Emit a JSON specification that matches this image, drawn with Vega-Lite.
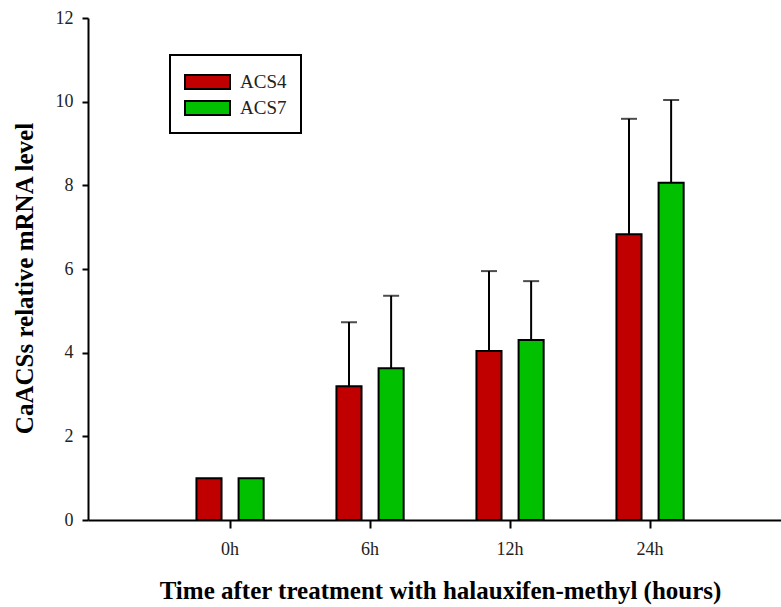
{
  "$schema": "https://vega.github.io/schema/vega-lite/v6.json",
  "width": 693,
  "height": 502,
  "autosize": "none",
  "padding": {"left": 88, "top": 18, "right": 0, "bottom": 87},
  "background": "white",
  "config": {
    "view": {"stroke": null},
    "font": "Liberation Serif",
    "axis": {"grid": false, "domainColor": "black", "domainWidth": 2, "tickColor": "black", "tickWidth": 2, "labelFont": "Liberation Serif", "labelFontSize": 18, "labelColor": "#222", "titleFont": "Liberation Serif", "titleFontWeight": "bold", "titleFontSize": 25, "titleColor": "black"},
    "legend": {"strokeWidth": 2}
  },
  "data": {
    "values": [
      {"time": "0h", "gene": "ACS4", "value": 1.0, "upper": null},
      {"time": "0h", "gene": "ACS7", "value": 1.0, "upper": null},
      {"time": "6h", "gene": "ACS4", "value": 3.20, "upper": 4.73},
      {"time": "6h", "gene": "ACS7", "value": 3.63, "upper": 5.36},
      {"time": "12h", "gene": "ACS4", "value": 4.04, "upper": 5.95},
      {"time": "12h", "gene": "ACS7", "value": 4.30, "upper": 5.71},
      {"time": "24h", "gene": "ACS4", "value": 6.83, "upper": 9.59},
      {"time": "24h", "gene": "ACS7", "value": 8.06, "upper": 10.04}
    ]
  },
  "encoding": {
    "x": {
      "field": "time", "type": "nominal", "sort": ["0h", "6h", "12h", "24h"],
      "scale": {"paddingInner": 0.52, "paddingOuter": 0.735, "align": 0.527},
      "axis": {"title": "Time after treatment with halauxifen-methyl (hours)", "labelAngle": 0, "tickSize": 8, "labelPadding": 12, "titleX": 352, "titleY": 70, "titleBaseline": "middle", "titleAnchor": null, "titleAlign": "center"}
    },
    "xOffset": {"field": "gene", "type": "nominal", "scale": {"paddingInner": 0.405, "paddingOuter": 0}}
  },
  "layer": [
    {
      "transform": [{"filter": "isValid(datum.upper)"}],
      "mark": {"type": "rule", "color": "black", "strokeWidth": 2},
      "encoding": {
        "y": {"field": "value", "type": "quantitative"},
        "y2": {"field": "upper"}
      }
    },
    {
      "transform": [{"filter": "isValid(datum.upper)"}],
      "mark": {"type": "tick", "color": "black", "size": 16, "thickness": 2, "orient": "horizontal"},
      "encoding": {
        "y": {"field": "upper", "type": "quantitative"}
      }
    },
    {
      "mark": {"type": "bar", "stroke": "black", "strokeWidth": 2},
      "encoding": {
        "y": {
          "field": "value", "type": "quantitative",
          "scale": {"domain": [0, 12], "nice": false},
          "axis": {"title": "CaACSs relative mRNA level", "values": [0, 2, 4, 6, 8, 10, 12], "tickSize": 6, "labelPadding": 9, "titleX": -64, "titleY": 260, "titleAngle": 270, "titleBaseline": "middle", "titleAlign": "center", "titleAnchor": null}
        },
        "fill": {
          "field": "gene", "type": "nominal",
          "scale": {"domain": ["ACS4", "ACS7"], "range": ["#c00000", "#00c000"]},
          "legend": {
            "title": null, "orient": "none", "legendX": 82, "legendY": 37,
            "strokeColor": "black", "padding": 14,
            "symbolType": "M-1,-0.583H2.75V0.583H-1Z", "symbolSize": 576,
            "symbolStrokeColor": "black", "symbolStrokeWidth": 2, "symbolOpacity": 1,
            "labelFont": "Liberation Serif", "labelFontSize": 19, "labelColor": "#222", "labelOffset": 30,
            "rowPadding": 2
          }
        }
      }
    }
  ]
}
